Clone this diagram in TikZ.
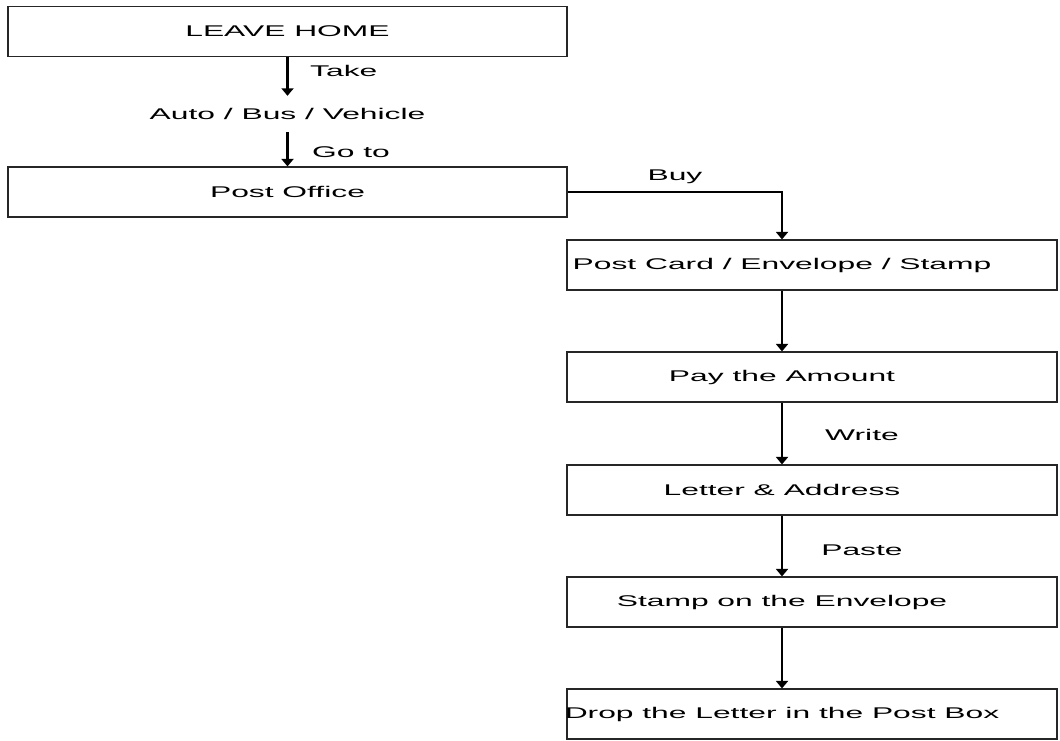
\documentclass[tikz,border=0pt]{standalone}
\usepackage{fontspec}
\setmainfont{Liberation Sans}[FakeStretch=2.05]
\usetikzlibrary{arrows.meta}
\begin{document}
\begin{tikzpicture}[x=1pt,y=-1pt,
  lbox/.style={draw=black!85, line width=1.2pt, minimum width=559pt, minimum height=50pt, inner sep=0pt,
    font=\fontsize{15.5}{18}\selectfont},
  rbox/.style={draw=black!85, line width=1.2pt, minimum width=490pt, minimum height=50pt, inner sep=0pt},
  txt/.style={inner sep=0pt, font=\fontsize{15.5}{18}\selectfont},
  flow/.style={line width=2.4pt, -{Triangle[length=7.5pt,width=12pt]}},
]
\useasboundingbox (0,0) rectangle (1060,740);

% left column
\node[lbox] (home) at (287.5,31.5) {LEAVE HOME};
\node[txt, minimum height=36pt] (mode) at (287.5,114) {Auto / Bus / Vehicle};
\node[lbox] (office) at (287.5,192) {Post Office};

% right column: frames and their captions
\node[rbox] (card)   at (812,265) {};
\node[rbox] (pay)    at (812,377) {};
\node[rbox] (letter) at (812,490) {};
\node[rbox] (stamp)  at (812,602) {};
\node[rbox] (drop)   at (812,714) {};
\node[txt] (cardtx)   at (782,265) {Post Card / Envelope / Stamp};
\node[txt] (paytx)    at (782,377) {Pay the Amount};
\node[txt] (lettertx) at (782,490) {Letter \& Address};
\node[txt] (stamptx)  at (782,602) {Stamp on the Envelope};
\node[txt] (droptx)   at (782,714) {Drop the Letter in the Post Box};

% edge labels
\node[txt, anchor=west] (take)  at (310,71)  {Take};
\node[txt, anchor=west] (goto)  at (312,152) {Go to};
\node[txt] (buy)   at (675,177) {Buy};
\node[txt] (write) at (862,435) {Write};
\node[txt] (paste) at (862,550) {Paste};

% connectors
\draw[flow] (home.south) -- (mode.north);
\draw[flow] (mode.south) -- (office.north);
\draw[flow] (office.east) -| (cardtx |- card.north);
\draw[flow] (cardtx |- card.south) -- (cardtx |- pay.north);
\draw[flow] (cardtx |- pay.south) -- (cardtx |- letter.north);
\draw[flow] (cardtx |- letter.south) -- (cardtx |- stamp.north);
\draw[flow] (cardtx |- stamp.south) -- (cardtx |- drop.north);
\end{tikzpicture}
\end{document}
